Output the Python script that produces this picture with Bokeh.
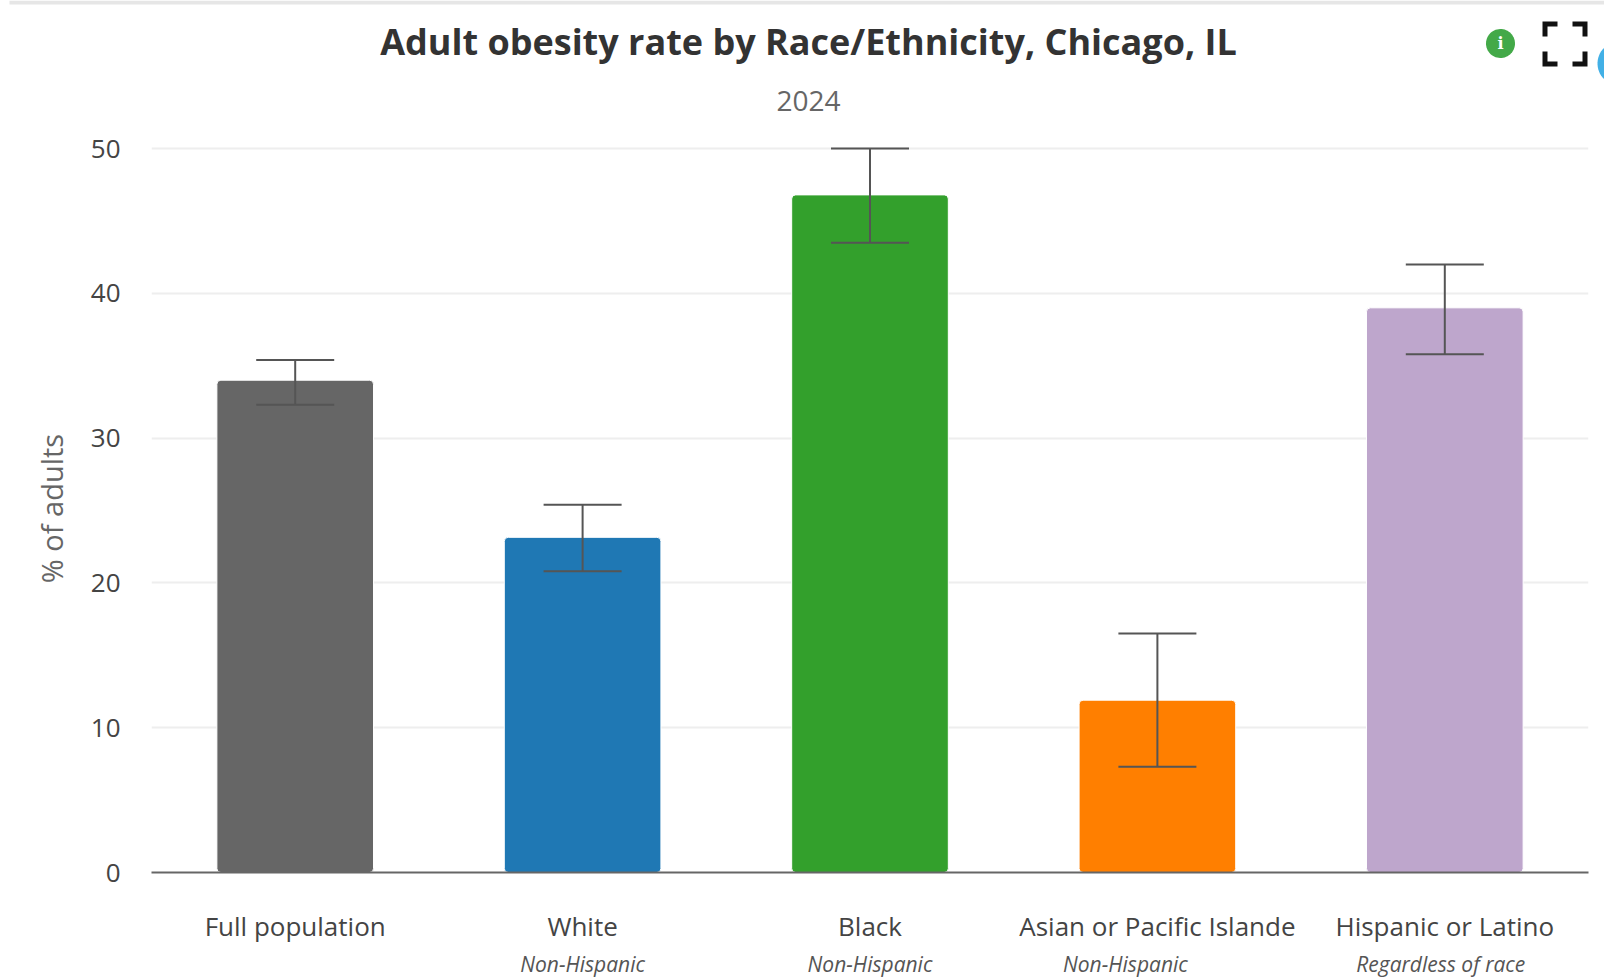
import numpy as np
from bokeh.core.properties import value
from bokeh.embed import file_html
from bokeh.layouts import column
from bokeh.resources import INLINE
from bokeh.plotting import figure
from bokeh.models import ColumnDataSource, FactorRange, Range1d, Whisker, TeeHead, FixedTicker

categories = ["Full population", "White", "Black", "Asian or Pacific Islande", "Hispanic or Latino"]
sublabels = ["", "Non-Hispanic", "Non-Hispanic", "Non-Hispanic", "Regardless of race"]
rates = [34.0, 23.15, 46.8, 11.9, 39.0]
upper = [35.4, 25.4, 50.0, 16.5, 42.0]
lower = [32.3, 20.8, 43.5, 7.3, 35.8]
colors = ["#666666", "#1f78b4", "#33a02c", "#ff7f00", "#bea6cc"]
y_ticks = [0, 10, 20, 30, 40, 50]

TITLE = "Adult obesity rate by Race/Ethnicity, Chicago, IL"
SUBTITLE = "2024"
Y_LABEL = "% of adults"
FONT = "Open Sans"

W, H = 1604, 979
HEAD, FOOT = 118, 32
FRAME_L, FRAME_R, FRAME_T, FRAME_B = 151, 1588, 144, 872
sub_shift = [0, 0, 0, -32, -4]

# ---- header strip: titles and page furniture, in page pixels
head = figure(width=W, height=HEAD, x_range=Range1d(0, W), y_range=Range1d(HEAD, 0),
              output_backend="svg", toolbar_location=None, min_border=0, frame_align=False,
              x_axis_type=None, y_axis_type=None, outline_line_color=None)
head.grid.visible = False
head.quad(left=9, right=W, top=0, bottom=4, color="#e6e6e6", line_color=None)
head.text(x=[808], y=[41], text=[TITLE], text_align="center", text_baseline="middle",
          text_font=value(FONT), text_font_size="36px", text_font_style="bold", text_color="#333333")
head.text(x=[808], y=[100], text=[SUBTITLE], text_align="center", text_baseline="middle",
          text_font=value(FONT), text_font_size="28px", text_color="#666666")
t = np.linspace(0, 2 * np.pi, 60)
head.patch(1500 + 14.5 * np.cos(t), 43 + 14.5 * np.sin(t), color="#43a948", line_color=None)
head.patch(1619 + 22 * np.cos(t), 63 + 22 * np.sin(t), color="#42b0e6", line_color=None)
head.text(x=[1500], y=[43], text=["i"], text_align="center", text_baseline="middle",
          text_font=value("DejaVu Serif"), text_font_size="16px", text_font_style="bold",
          text_color="white")
L, R, T, B, a, th = 1542, 1587, 21, 66, 15, 5
for sx, sy, cx, cy in [(1, 1, L, T), (-1, 1, R, T), (1, -1, L, B), (-1, -1, R, B)]:
    head.patch([cx, cx + sx * a, cx + sx * a, cx + sx * th, cx + sx * th, cx],
               [cy, cy, cy + sy * th, cy + sy * th, cy + sy * a, cy + sy * a],
               color="#111111", line_color=None)

# ---- chart
x_range = FactorRange(*categories, factor_padding=0, range_padding=0)
p = figure(width=W, height=H - HEAD - FOOT, x_range=x_range,
           y_range=Range1d(0, 50.28), output_backend="svg", toolbar_location=None,
           min_border_left=FRAME_L, min_border_right=W - FRAME_R, min_border_top=FRAME_T - HEAD,
           min_border_bottom=H - FOOT - FRAME_B, outline_line_color=None)

src = ColumnDataSource(dict(cat=categories, rate=rates, up=upper, lo=lower, col=colors, sub=sublabels,
                            shift=sub_shift))
p.vbar(x="cat", top="rate", width=0.545, bottom=0, source=src, fill_color="col",
       line_color="white", line_width=1, border_radius=4)
p.add_layout(Whisker(base="cat", upper="up", lower="lo", source=src, dimension="height",
                     line_color="#555555", line_width=2, level="overlay",
                     upper_head=TeeHead(size=78, line_color="#555555", line_width=2),
                     lower_head=TeeHead(size=78, line_color="#555555", line_width=2)))

ax = p.xaxis[0]
ax.axis_line_color = "#666666"
ax.axis_line_width = 2
ax.major_tick_line_color = None
ax.minor_tick_line_color = None
ax.major_label_standoff = 29
ax.major_label_text_font = FONT
ax.major_label_text_font_size = "26px"
ax.major_label_text_color = "#444444"
ax.major_label_orientation = "horizontal"

ay = p.yaxis[0]
ay.ticker = FixedTicker(ticks=y_ticks)
ay.axis_line_color = None
ay.major_tick_line_color = None
ay.minor_tick_line_color = None
ay.major_label_standoff = 25
ay.major_label_text_font = FONT
ay.major_label_text_font_size = "26px"
ay.major_label_text_color = "#444444"
ay.axis_label = Y_LABEL
ay.axis_label_standoff = 17
ay.axis_label_text_font = FONT
ay.axis_label_text_font_size = "29px"
ay.axis_label_text_font_style = "normal"
ay.axis_label_text_color = "#666666"

p.xgrid.visible = False
p.ygrid.ticker = FixedTicker(ticks=y_ticks)
p.ygrid.grid_line_color = "#eeeeee"
p.ygrid.grid_line_width = 2

# ---- footer strip: second line of the category labels, on the chart's own x scale
foot = figure(width=W, height=FOOT, x_range=x_range, y_range=Range1d(0, 1),
              output_backend="svg", toolbar_location=None, min_border_left=FRAME_L,
              min_border_right=W - FRAME_R, min_border_top=0, min_border_bottom=0,
              x_axis_type=None, y_axis_type=None, outline_line_color=None)
foot.grid.visible = False
foot.text(x="cat", y=0.5, text="sub", source=src, x_offset="shift", text_align="center",
          text_baseline="middle", text_font=value(FONT), text_font_size="21px",
          text_font_style="italic", text_color="#555555")

open("out.html", "w").write(file_html(column(head, p, foot, spacing=0), INLINE))
